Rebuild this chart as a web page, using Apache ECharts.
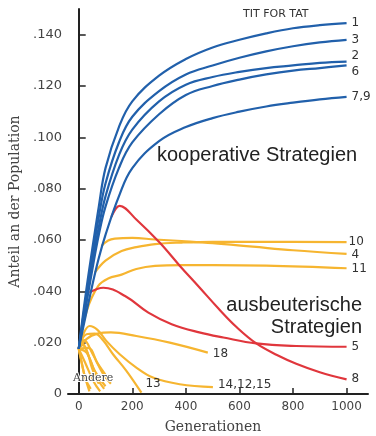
<!DOCTYPE html>
<html>
<head>
<meta charset="utf-8">
<script src="https://cdn.jsdelivr.net/npm/echarts@6/dist/echarts.min.js"></script>
<style>
  html, body { margin: 0; padding: 0; background: #fff; }
  #chart { width: 376px; height: 436px; }
</style>
</head>
<body>
<div id="chart"></div>
<script>
// Achsen
const xTicks = [0, 200, 400, 600, 800, 1000]
const yTicks = [0, 0.02, 0.04, 0.06, 0.08, 0.1, 0.12, 0.14]

// kooperative Strategien (blau)
const genBlue = [0, 25, 50, 75, 100, 150, 200, 300, 400, 500, 600, 700, 800, 900, 1000]
const s1 = [0.0176, 0.038, 0.056, 0.073, 0.088, 0.104, 0.114, 0.124, 0.1305, 0.135, 0.138, 0.1405, 0.1425, 0.1437, 0.1445]
const s3 = [0.0176, 0.036, 0.053, 0.069, 0.082, 0.098, 0.108, 0.118, 0.1245, 0.128, 0.131, 0.1335, 0.1355, 0.137, 0.138]
const s2 = [0.0176, 0.034, 0.05, 0.065, 0.077, 0.093, 0.103, 0.114, 0.1205, 0.1235, 0.1255, 0.127, 0.128, 0.129, 0.1295]
const s6 = [0.0176, 0.033, 0.048, 0.062, 0.073, 0.088, 0.098, 0.109, 0.1165, 0.12, 0.1225, 0.1245, 0.126, 0.127, 0.128]
const s79 = [0.0176, 0.03, 0.042, 0.053, 0.062, 0.077, 0.088, 0.0985, 0.104, 0.1075, 0.11, 0.112, 0.1135, 0.1148, 0.1158]

// ausbeuterische Strategien (rot)
const gen8 = [122, 153, 215, 302, 377, 451, 520, 590, 663, 740, 812, 900, 1000]
const s8 = [0.069, 0.0733, 0.068, 0.059, 0.05, 0.0415, 0.0335, 0.026, 0.0197, 0.0152, 0.0118, 0.0085, 0.0057]
const gen5 = [40, 92, 173, 260, 347, 450, 540, 663, 812, 1000]
const s5 = [0.0395, 0.0414, 0.0382, 0.0317, 0.0272, 0.024, 0.022, 0.0197, 0.0187, 0.0184]

// übrige Strategien (gelb)
const gen4 = [85, 110, 135, 200, 285, 384, 500, 650, 800, 1000]
const s4 = [0.0577, 0.0598, 0.0605, 0.0608, 0.0602, 0.0596, 0.0588, 0.0574, 0.056, 0.0546]
const gen10 = [60, 100, 160, 215, 285, 384, 500, 700, 1000]
const s10 = [0.0473, 0.052, 0.0557, 0.0572, 0.0584, 0.059, 0.0593, 0.0593, 0.0592]
const gen11 = [0, 30, 73, 110, 160, 215, 285, 384, 500, 700, 1000]
const s11 = [0.0176, 0.0324, 0.0421, 0.045, 0.0465, 0.0487, 0.0499, 0.0502, 0.0502, 0.05, 0.049]
const gen18 = [0, 30, 70, 120, 215, 340, 482]
const s18 = [0.0176, 0.0215, 0.0235, 0.024, 0.0226, 0.02, 0.0161]
const gen14 = [0, 20, 41, 70, 103, 153, 215, 277, 377, 501]
const s14 = [0.0176, 0.024, 0.0265, 0.025, 0.0207, 0.0155, 0.0103, 0.0064, 0.0038, 0.0027]
const gen13 = [0, 29, 60, 90, 128, 178, 234]
const s13 = [0.0176, 0.0233, 0.0235, 0.021, 0.0155, 0.009, 0.0005]

// Andere (kurze Linien nahe Null)
const andereGen = [
  [0, 20, 40],
  [0, 25, 55, 80],
  [0, 15, 40, 70, 95],
  [0, 30, 60, 100],
  [0, 10, 30, 50, 75],
  [0, 20, 50, 90, 120],
  [0, 10, 25, 45],
  [0, 35, 70, 110]
]
const andereVal = [
  [0.0176, 0.008, 0.001],
  [0.0176, 0.012, 0.005, 0.001],
  [0.0176, 0.019, 0.014, 0.006, 0.002],
  [0.0176, 0.016, 0.009, 0.003],
  [0.0176, 0.02, 0.017, 0.01, 0.004],
  [0.0176, 0.021, 0.016, 0.008, 0.004],
  [0.0176, 0.013, 0.006, 0.002],
  [0.0176, 0.018, 0.012, 0.006]
]

const BLUE = '#2160ab'
const RED = '#e0363c'
const YELLOW = '#f6b530'

const pairs = (xs, ys) => xs.map((x, i) => [x, ys[i]])

function line(name, xs, ys, color, label, offset) {
  return {
    name: name,
    type: 'line',
    data: pairs(xs, ys),
    symbol: 'none',
    smooth: 0.4,
    lineStyle: { color: color, width: 2.2 },
    silent: true,
    endLabel: {
      show: !!label,
      formatter: label || '',
      offset: offset || [0, 0],
      distance: 5,
      color: '#333',
      fontFamily: 'DejaVu Sans',
      fontSize: 12
    }
  }
}

const series = []
andereGen.forEach((g, i) => series.push(line('Andere ' + i, g, andereVal[i], YELLOW)))
series.push(line('13', gen13, s13, YELLOW, '13', [-1, -9]))
series.push(line('14,12,15', gen14, s14, YELLOW, '14,12,15', [0, -2]))
series.push(line('18', gen18, s18, YELLOW, '18', [0, 1]))
series.push(line('11', gen11, s11, YELLOW, '11', [0, 1]))
series.push(line('10', gen10, s10, YELLOW, '10', [-3, 0]))
series.push(line('4', gen4, s4, YELLOW, '4', [0, 1]))
series.push(line('5', gen5, s5, RED, '5'))
series.push(line('8', gen8, s8, RED, '8'))
series.push(line('7,9', genBlue, s79, BLUE, '7,9'))
series.push(line('6', genBlue, s6, BLUE, '6', [0, 6]))
series.push(line('2', genBlue, s2, BLUE, '2', [0, -6]))
series.push(line('3', genBlue, s3, BLUE, '3'))
series.push(line('1', genBlue, s1, BLUE, '1'))

const fmtY = v => (v === 0 ? '0' : '.' + String(Math.round(v * 1000)).padStart(3, '0'))

const option = {
  animation: false,
  backgroundColor: '#fff',
  grid: { left: 68, right: 8, top: 9, bottom: 42, outerBoundsMode: 'none' },
  xAxis: {
    type: 'value',
    min: -40,
    max: 1080,
    name: 'Generationen',
    nameLocation: 'middle',
    nameGap: 26,
    nameTextStyle: { fontFamily: 'DejaVu Serif', fontSize: 14, color: '#444', padding: [0, 10, 0, 0] },
    splitLine: { show: false },
    axisLine: { lineStyle: { color: '#222', width: 2 } },
    axisTick: { inside: true, length: 6, customValues: xTicks, lineStyle: { color: '#222', width: 1.5 } },
    axisLabel: { customValues: xTicks, formatter: v => String(v), margin: 7, fontFamily: 'DejaVu Sans', fontSize: 12, color: '#444' }
  },
  yAxis: {
    type: 'value',
    min: 0,
    max: 0.15,
    name: 'Anteil an der Population',
    nameLocation: 'middle',
    nameRotate: 90,
    nameGap: 44,
    nameTextStyle: { fontFamily: 'DejaVu Serif', fontSize: 14, color: '#444' },
    splitLine: { show: false },
    axisLine: { show: true, lineStyle: { color: '#222', width: 2 } },
    axisTick: { show: true, inside: true, length: 7, customValues: yTicks, lineStyle: { color: '#222', width: 1.5 } },
    axisLabel: { customValues: yTicks, formatter: fmtY, margin: 6, fontFamily: 'DejaVu Sans', fontSize: 13, color: '#444' }
  },
  graphic: [
    { type: 'text', z: 100, left: 243, top: 9, style: { text: 'TIT FOR TAT', font: '11px "DejaVu Sans"', fill: '#333' } },
    { type: 'text', z: 100, left: 157, top: 145, style: { text: 'kooperative Strategien', font: '20px "Liberation Sans"', fill: '#222' } },
    { type: 'text', z: 100, right: 14, top: 295, style: { text: 'ausbeuterische', font: '20px "Liberation Sans"', fill: '#222' } },
    { type: 'text', z: 100, right: 14, top: 317, style: { text: 'Strategien', font: '20px "Liberation Sans"', fill: '#222' } },
    { type: 'text', z: 100, left: 72, top: 372, style: { text: 'Andere', font: '11px "DejaVu Serif"', fill: '#444', stroke: '#fff', lineWidth: 2 } }
  ],
  series: series
}

const chart = echarts.init(document.getElementById('chart'), null, { renderer: 'canvas' })
chart.setOption(option)
window.addEventListener('resize', chart.resize)
</script>
</body>
</html>
